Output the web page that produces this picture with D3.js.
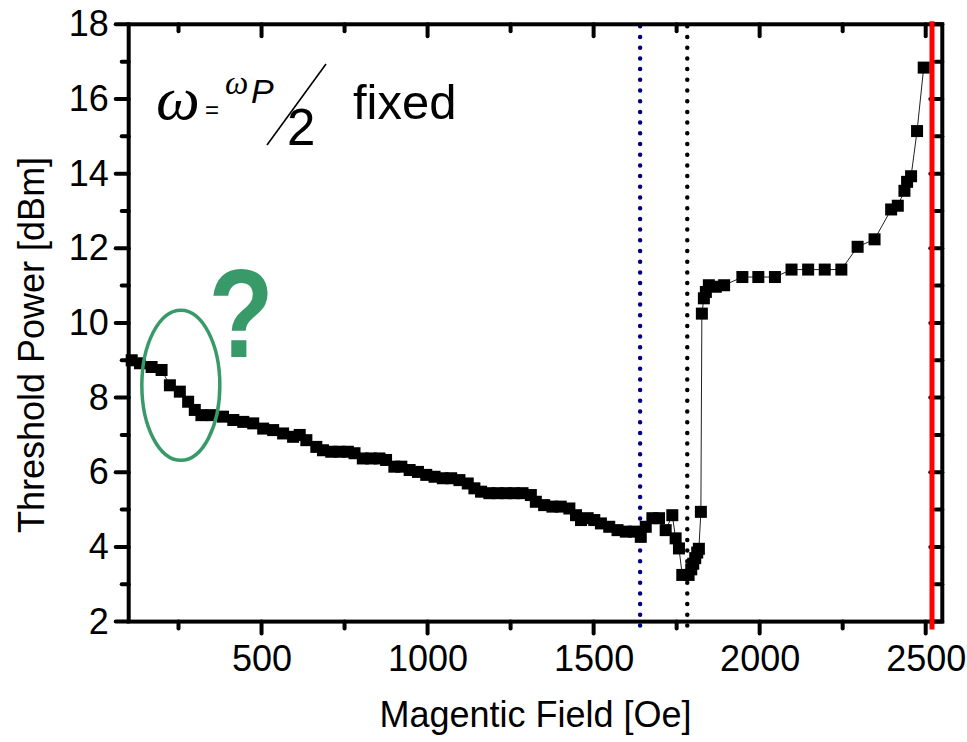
<!DOCTYPE html>
<html>
<head>
<meta charset="utf-8">
<script src="https://cdn.jsdelivr.net/npm/d3@7"></script>
<style>
  html, body { margin: 0; padding: 0; background: #fff; }
  svg { display: block; }
  text { font-family: "Liberation Sans", Arial, sans-serif; fill: #000; }
</style>
</head>
<body>
<svg id="chart" width="967" height="742"></svg>
<script>
// Magnetic field sweep (Oe) and measured threshold power (dBm)
const fieldOe = [
  109, 134, 169, 199, 224, 254, 279, 299, 319, 350,
  384, 415, 445, 475, 505, 535, 565, 595, 615, 635,
  665, 685, 710, 735, 760, 780, 805, 830, 855, 875,
  900, 921, 946, 971, 996, 1021, 1046, 1071, 1096, 1121,
  1141, 1161, 1186, 1211, 1236, 1261, 1286, 1311, 1326, 1351,
  1376, 1401, 1427, 1447, 1462, 1482, 1502, 1522, 1547, 1572,
  1597, 1622, 1642, 1657, 1677, 1697, 1717, 1737, 1747, 1757,
  1767, 1786, 1794, 1800, 1806, 1812, 1817, 1823, 1826, 1832,
  1838, 1847, 1868, 1893, 1948, 1996, 2046, 2096, 2146, 2196,
  2246, 2295, 2346, 2396, 2416, 2436, 2444, 2456, 2474, 2494
];
const thresholdDbm = [
  9.00, 8.92, 8.82, 8.74, 8.33, 8.16, 7.89, 7.67, 7.53, 7.53,
  7.49, 7.40, 7.35, 7.31, 7.17, 7.13, 7.04, 6.95, 7.00, 6.86,
  6.68, 6.59, 6.55, 6.55, 6.55, 6.51, 6.37, 6.37, 6.37, 6.33,
  6.15, 6.15, 6.06, 6.01, 5.93, 5.88, 5.84, 5.84, 5.79, 5.70,
  5.57, 5.48, 5.44, 5.44, 5.44, 5.44, 5.44, 5.39, 5.21, 5.12,
  5.08, 5.08, 5.03, 4.85, 4.72, 4.77, 4.72, 4.63, 4.54, 4.45,
  4.41, 4.41, 4.27, 4.54, 4.77, 4.77, 4.45, 4.85, 4.23, 3.96,
  3.25, 3.25, 3.40, 3.55, 3.70, 3.85, 3.95, 4.94, 10.25, 10.66,
  10.83, 11.01, 10.97, 11.01, 11.23, 11.23, 11.23, 11.43, 11.43, 11.43,
  11.43, 12.04, 12.24, 13.04, 13.14, 13.54, 13.78, 13.93, 15.14, 16.84
];

// Axis ticks
const xMajorTicks = [500, 1000, 1500, 2000, 2500];
const xMinorTicks = [250, 750, 1250, 1750, 2250];
const yMajorTicks = [2, 4, 6, 8, 10, 12, 14, 16, 18];
const yMinorTicks = [3, 5, 7, 9, 11, 13, 15, 17];

// Reference field markers (Oe)
const blueMarkerField = [1640];
const blackMarkerField = [1782];
const redMarkerField = [2519];

const xDomain = [100, 2550];
const yDomain = [2, 18];

const svg = d3.select("#chart");
const plot = { left: 128.7, right: 942.3, top: 24.3, bottom: 621.6 };

const x = d3.scaleLinear().domain(xDomain).range([plot.left, plot.right]);
const y = d3.scaleLinear().domain(yDomain).range([plot.bottom, plot.top]);

const points = fieldOe.map((f, i) => ({ f, p: thresholdDbm[i] }));

// Vertical dotted markers
function dottedLine(vals, color) {
  svg.append("g").selectAll("line").data(vals).join("line")
    .attr("x1", d => x(d)).attr("x2", d => x(d))
    .attr("y1", plot.top + 2).attr("y2", plot.bottom + 8)
    .attr("stroke", color)
    .attr("stroke-width", 4.5)
    .attr("stroke-linecap", "round")
    .attr("stroke-dasharray", "0,10.7");
}
dottedLine(blueMarkerField, "#000080");
dottedLine(blackMarkerField, "#000");

// Connecting line and square markers
svg.append("path")
  .datum(points)
  .attr("fill", "none")
  .attr("stroke", "#222")
  .attr("stroke-width", 1)
  .attr("d", d3.line().x(d => x(d.f)).y(d => y(d.p)));

const ms = 12;
svg.append("g").selectAll("rect").data(points).join("rect")
  .attr("x", d => x(d.f) - ms / 2)
  .attr("y", d => y(d.p) - ms / 2)
  .attr("width", ms).attr("height", ms)
  .attr("fill", "#000");

// Tick labels via d3 axes (tick marks drawn separately below)
function labelAxis(g) {
  g.select(".domain").remove();
  g.selectAll(".tick line").remove();
  g.selectAll(".tick text")
    .style("font-size", "36px")
    .style("font-family", "'Liberation Sans', Arial, sans-serif")
    .style("fill", "#000");
}
svg.append("g").attr("transform", `translate(0,${plot.bottom})`)
  .call(d3.axisBottom(x).tickValues(xMajorTicks).tickSize(12).tickPadding(12).tickFormat(d3.format("d")))
  .call(labelAxis);
svg.append("g").attr("transform", `translate(${plot.left},0)`)
  .call(d3.axisLeft(y).tickValues(yMajorTicks).tickSize(13).tickPadding(7).tickFormat(d3.format("d")))
  .call(labelAxis);

// Tick marks: outward on bottom/left, inward on top/right
const tickG = svg.append("g")
  .attr("stroke", "#000")
  .attr("stroke-width", 4)
  .attr("stroke-linecap", "round");
function xTicks(vals, len, y0, dir) {
  tickG.append("g").selectAll("line").data(vals).join("line")
    .attr("x1", d => x(d)).attr("x2", d => x(d))
    .attr("y1", y0).attr("y2", y0 + dir * len);
}
function yTicks(vals, len, x0, dir) {
  tickG.append("g").selectAll("line").data(vals).join("line")
    .attr("y1", d => y(d)).attr("y2", d => y(d))
    .attr("x1", x0).attr("x2", x0 + dir * len);
}
xTicks(xMajorTicks, 12, plot.bottom, 1);
xTicks(xMinorTicks, 7, plot.bottom, 1);
xTicks(xMajorTicks, 12, plot.top, 1);
xTicks(xMinorTicks, 7, plot.top, 1);
yTicks(yMajorTicks, 13, plot.left, -1);
yTicks(yMinorTicks, 7, plot.left, -1);
yTicks(yMajorTicks, 12, plot.right, -1);
yTicks(yMinorTicks, 7, plot.right, -1);

// Frame
svg.append("rect")
  .attr("x", plot.left).attr("y", plot.top)
  .attr("width", plot.right - plot.left).attr("height", plot.bottom - plot.top)
  .attr("fill", "none").attr("stroke", "#000").attr("stroke-width", 4);

// Solid red marker, drawn over the frame
svg.append("g").selectAll("line").data(redMarkerField).join("line")
  .attr("x1", d => x(d)).attr("x2", d => x(d))
  .attr("y1", plot.top - 3).attr("y2", plot.bottom + 8)
  .attr("stroke", "#ff0000")
  .attr("stroke-width", 5);

// Axis titles
svg.append("text")
  .attr("x", (plot.left + plot.right) / 2).attr("y", 727)
  .attr("text-anchor", "middle")
  .style("font-size", "36px")
  .text("Magentic Field [Oe]");

svg.append("text")
  .attr("transform", `translate(44,${(plot.top + plot.bottom) / 2 + 22}) rotate(-90)`)
  .attr("text-anchor", "middle")
  .style("font-size", "36px")
  .text("Threshold Power [dBm]");

// Formula annotation: ω = ωP / 2 fixed
const serif = "'Liberation Serif', 'Times New Roman', serif";
svg.append("text").attr("x", 156).attr("y", 119)
  .style("font-family", serif).style("font-style", "italic").style("font-size", "62px")
  .text("ω");
svg.append("text").attr("x", 205).attr("y", 118)
  .style("font-size", "24px")
  .text("=");
svg.append("text").attr("x", 225).attr("y", 94)
  .style("font-family", serif).style("font-style", "italic").style("font-size", "33px")
  .text("ω");
svg.append("text").attr("x", 251).attr("y", 103)
  .style("font-style", "italic").style("font-size", "34px")
  .text("P");
svg.append("line")
  .attr("x1", 267).attr("y1", 145).attr("x2", 326).attr("y2", 64)
  .attr("stroke", "#000").attr("stroke-width", 1.6);
svg.append("text").attr("x", 287).attr("y", 145)
  .style("font-size", "51px")
  .text("2");
svg.append("text").attr("x", 353).attr("y", 119)
  .style("font-size", "49px")
  .text("fixed");

// Highlighted low-field region
const green = "#389a68";
svg.append("ellipse")
  .attr("cx", x(257)).attr("cy", y(8.33))
  .attr("rx", 39).attr("ry", 75)
  .attr("fill", "none").attr("stroke", green).attr("stroke-width", 3.5);
svg.append("text")
  .attr("transform", "translate(241,357) scale(0.92,1.08)")
  .attr("text-anchor", "middle")
  .style("font-size", "116px").style("font-weight", "bold")
  .style("fill", green)
  .text("?");
</script>
</body>
</html>
